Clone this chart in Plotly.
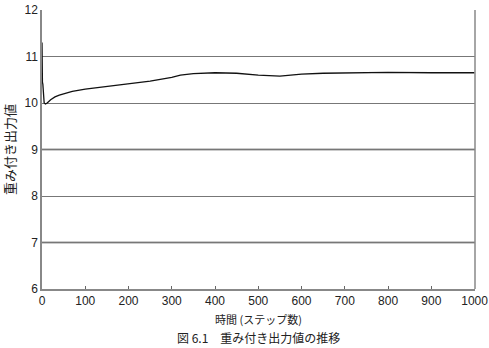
import plotly.graph_objects as go

steps = [0, 0, 1, 2, 3, 4, 5, 8, 12, 20, 30, 40, 50, 70, 100, 150, 200, 250, 300, 320, 350, 400, 450, 500, 550, 600, 650, 700, 800, 900, 1000]
values = [11.3, 10.5, 10.45, 10.4, 10.3, 10.15, 10.0, 9.98, 10.0, 10.07, 10.13, 10.17, 10.2, 10.25, 10.3, 10.36, 10.42, 10.47, 10.55, 10.6, 10.63, 10.65, 10.64, 10.6, 10.58, 10.62, 10.64, 10.65, 10.66, 10.65, 10.65]

x_ticks = [0, 100, 200, 300, 400, 500, 600, 700, 800, 900, 1000]
y_ticks = [6, 7, 8, 9, 10, 11, 12]

font = "Liberation Sans, Arial, sans-serif"
cjk = "Noto Sans CJK JP"

fig = go.Figure()
fig.add_trace(go.Scatter(x=steps, y=values, mode="lines",
                         line=dict(color="#111111", width=1.3), showlegend=False))

fig.update_layout(
    width=489, height=348,
    margin=dict(l=42, r=14, t=10, b=59, autoexpand=False),
    paper_bgcolor="white", plot_bgcolor="white",
    font=dict(family=font, size=12, color="#222222"),
    xaxis=dict(range=[0, 1001], tickvals=x_ticks, ticks="inside", ticklen=3,
               tickcolor="#666666", showline=True, linecolor="#888888", linewidth=1.5,
               mirror=False, showgrid=False, zeroline=False, ticklabeloverflow="allow",
               automargin=False,
               tickfont=dict(size=12, family=font, color="#222222"),
               title=dict(text="時間 (ステップ数)", font=dict(family=cjk, size=11, color="#222222"),
                          standoff=9)),
    yaxis=dict(range=[6, 12], tickvals=y_ticks, ticks="", showline=True,
               linecolor="#888888", linewidth=1.5, showgrid=True, gridcolor="#777777",
               gridwidth=1.2, zeroline=False, automargin=False,
               tickfont=dict(size=12, family=font, color="#222222"),
               title=dict(text="重み付き出力値", font=dict(family=cjk, size=13, color="#222222"),
                          standoff=10)),
)

# right border
fig.add_shape(type="line", xref="paper", yref="paper", x0=1, x1=1, y0=0, y1=1,
              line=dict(color="#888888", width=1.5))
# darker lines at 7 and 9
for yv in [7, 9]:
    fig.add_shape(type="line", xref="paper", yref="y", x0=0, x1=1, y0=yv, y1=yv,
                  line=dict(color="#333333", width=1.6), layer="below")

fig.add_annotation(text="図 6.1　重み付き出力値の推移", xref="paper", yref="paper",
                   x=0.5, y=0, yshift=-38, yanchor="top", showarrow=False,
                   font=dict(family=cjk, size=12, color="#222222"))

fig.write_html("out.html")
